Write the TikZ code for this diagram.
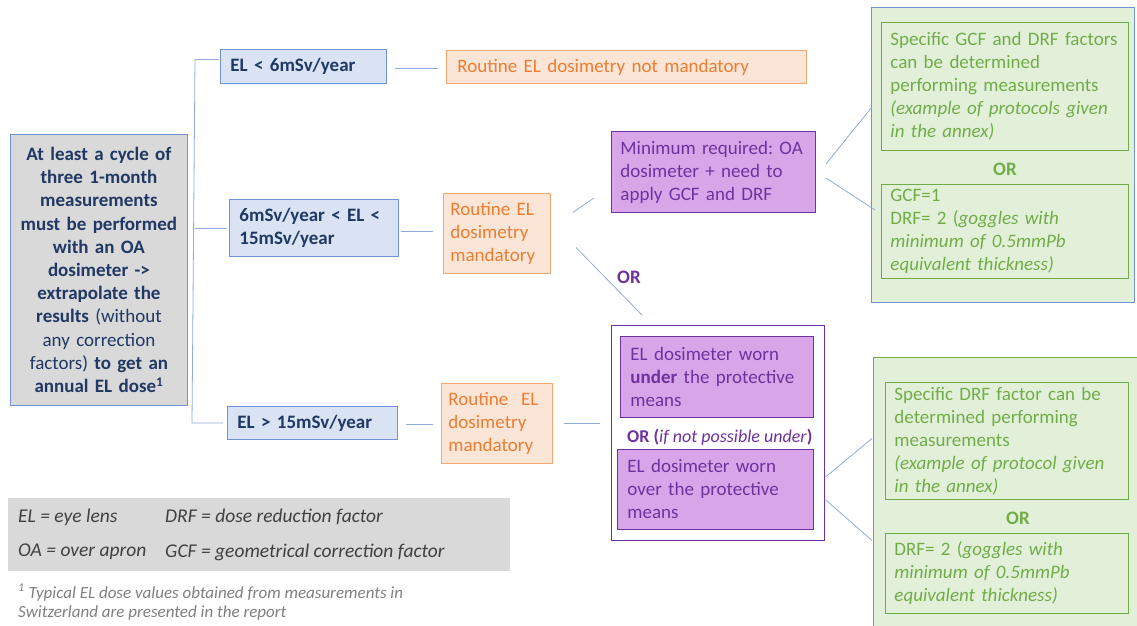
\documentclass[tikz,border=0pt]{standalone}
\usepackage{fontspec}
\setmainfont{Carlito}
\frenchspacing
\usetikzlibrary{calc}
\definecolor{bluefill}{HTML}{DAE3F3}
\definecolor{blueline}{HTML}{8FAADC}
\definecolor{blueborder}{HTML}{6F93D6}
\definecolor{bluetext}{HTML}{203864}
\definecolor{orfill}{HTML}{FBE5D6}
\definecolor{orline}{HTML}{F4A870}
\definecolor{ortext}{HTML}{ED7D31}
\definecolor{pufill}{HTML}{D8A6E8}
\definecolor{puline}{HTML}{7030A0}
\definecolor{gfill}{HTML}{E2F0D9}
\definecolor{gline}{HTML}{70AD47}
\definecolor{graybg}{HTML}{D9D9D9}
\definecolor{legtext}{HTML}{404040}
\definecolor{foottext}{HTML}{7F7F7F}
\tikzset{
  bx/.style={draw, line width=0.9pt, anchor=north west, inner xsep=10pt, inner ysep=0pt, align=left, font=\fontsize{19}{23}\selectfont},
  bluebox/.style={bx, fill=bluefill, draw=blueborder, text=bluetext, font=\fontsize{19}{23}\selectfont\bfseries},
  orbox/.style={bx, fill=orfill, draw=orline, text=ortext},
  pubox/.style={bx, fill=pufill, draw=puline, text=puline},
  gbox/.style={bx, fill=gfill, draw=gline, text=gline},
  conn/.style={draw=blueline, line width=0.8pt},
  ortxt/.style={font=\fontsize{19}{23}\selectfont\bfseries, inner sep=0pt},
}
\begin{document}
\begin{tikzpicture}[x=1pt,y=-1pt]
\useasboundingbox (0,0) rectangle (1137,625);

% left box
\node[bx, fill=graybg, draw=blueborder, text=bluetext, align=center, inner xsep=3pt,
      minimum width=177, minimum height=271, text width=171,
      font=\fontsize{19}{23.2}\selectfont\bfseries] (L) at (10,134)
 {At least a cycle of\\three 1-month\\measurements\\must be performed\\with an OA\\dosimeter ->\\extrapolate the\\results {\mdseries(without}\\{\mdseries any correction}\\{\mdseries factors)} to get an\\annual EL dose\textsuperscript{1}};

% EL range boxes
\node[bluebox, minimum width=166, minimum height=34, text width=146] (b1) at (220,49) {EL < 6mSv/year};
\node[bluebox, minimum width=169, minimum height=57, text width=149] (b2) at (229,199) {6mSv/year < EL <\\15mSv/year};
\node[bluebox, minimum width=170, minimum height=33, text width=150] (b3) at (227,406) {EL > 15mSv/year};

% orange boxes
\node[orbox, minimum width=360, minimum height=33, text width=338, inner xsep=11pt] (o1) at (446,50) {Routine EL dosimetry not mandatory};
\node[orbox, minimum width=107, minimum height=80, text width=93, inner xsep=7pt] (o2) at (443,193) {Routine EL\\dosimetry\\mandatory};
\node[orbox, minimum width=111, minimum height=80, text width=97, inner xsep=7pt] (o3) at (441,383) {Routine\ \ EL\\dosimetry\\mandatory};

% purple boxes
\node[pubox, minimum width=204, minimum height=81, text width=186, inner xsep=9pt] (p1) at (611,131) {Minimum required: OA\\dosimeter + need to\\apply GCF and DRF};
\node[bx, fill=white, draw=puline, line width=0.7pt, minimum width=213, minimum height=215] (pc) at (611,325) {};
\node[pubox, minimum width=193, minimum height=81, text width=173] (p2) at (620,336) {EL dosimeter worn\\\textbf{under} the protective\\means};
\node[anchor=west, inner sep=0pt, text=puline, font=\fontsize{18}{20}\selectfont] (por) at (627,437) {\textbf{OR (}\textit{if not possible under}\textbf{)}};
\node[pubox, minimum width=196, minimum height=80, text width=176] (p3) at (617,449) {EL dosimeter worn\\over the protective\\means};

% green upper group
\node[bx, fill=gfill, draw=blueborder, minimum width=263, minimum height=295] (gc1) at (871,7) {};
\node[gbox, minimum width=247, minimum height=128, text width=229, inner xsep=9pt] (g1) at (881,22)
 {Specific GCF and DRF factors\\can be determined\\performing measurements\\\textit{(example of protocols given}\\\textit{in the annex)}};
\node[ortxt, text=gline] (gor1) at (1005,169) {OR};
\node[gbox, minimum width=247, minimum height=94, text width=229, inner xsep=9pt] (g2) at (881,184)
 {GCF=1\\DRF= 2 (\textit{goggles with}\\\textit{minimum of 0.5mmPb}\\\textit{equivalent thickness)}};

% green lower group
\node[bx, fill=gfill, draw=gline, minimum width=266, minimum height=270] (gc2) at (873,357) {};
\node[gbox, minimum width=243, minimum height=117, text width=225, inner xsep=9pt] (g3) at (885,382)
 {Specific DRF factor can be\\determined performing\\measurements\\\textit{(example of protocol given}\\\textit{in the annex)}};
\node[ortxt, text=gline] (gor2) at (1018,518) {OR};
\node[gbox, minimum width=243, minimum height=80, text width=225, inner xsep=9pt] (g4) at (885,533)
 {DRF= 2 (\textit{goggles with}\\\textit{minimum of 0.5mmPb}\\\textit{equivalent thickness)}};

% OR between branches
\node[ortxt, text=puline, anchor=west] (mor) at (617,277) {OR};

% tree connectors
\coordinate (tv) at (195,0);
\draw[conn] ([yshift=7pt,xshift=-1pt]b1.west) -- ([yshift=7pt]b1.west -| tv) -- ([xshift=-3pt]b3.west -| tv) -- ([xshift=-4pt]b3.west);
\draw[conn] (b2.west -| tv) -- ([xshift=-2pt]b2.west);

\draw[conn, shorten <=8pt, shorten >=8pt] ([yshift=-2pt]b1.east) -- ([yshift=-2pt]b1.east -| o1.west);
\draw[conn, shorten <=2pt, shorten >=10pt] ([yshift=-3pt]b2.east) -- ([yshift=-3pt]b2.east -| o2.west);
\draw[conn, shorten <=8pt, shorten >=8pt] ([yshift=-1pt]b3.east) -- ([yshift=-1pt]b3.east -| o3.west);

\draw[conn] ($(o2.east)+(22,-21)$) -- ($(p1.south west)+(-17,-15)$);
\draw[conn] ($(o2.east)+(25,14)$) -- ($(pc.north west)+(31,-10)$);
\draw[conn, shorten <=11pt, shorten >=11pt] (o3.east) -- (o3.east -| pc.west);

\draw[conn] ($(p1.east)+(10,-8)$) -- ($(gc1.west)+(1,-48)$);
\draw[conn] ($(p1.east)+(10,6)$) -- ($(gc1.west)+(4,55)$);
\draw[conn] ($(pc.east)+(1,44)$) -- ($(gc2.west)+(-1,-54)$);
\draw[conn] ($(pc.east)+(1,67)$) -- ($(gc2.west)+(-1,48)$);

% legend
\node[anchor=north west, fill=graybg, minimum width=502, minimum height=73, inner sep=0pt] (leg) at (8,498) {};
\begin{scope}[every node/.style={anchor=west, inner sep=0pt, text=legtext, font=\fontsize{19.5}{22}\selectfont\itshape}]
\node (l1) at (18,517) {EL = eye lens};
\node (l2) at (165,517) {DRF = dose reduction factor};
\node (l3) at (18,552) {OA = over apron};
\node (l4) at (165,552) {GCF = geometrical correction factor};
\end{scope}

% footnote
\node[anchor=north west, inner sep=0pt, align=left, text=foottext, font=\fontsize{17}{19.5}\selectfont\itshape] (fn) at (18,584)
 {\textsuperscript{1} Typical EL dose values obtained from measurements in\\Switzerland are presented in the report};
\end{tikzpicture}
\end{document}
